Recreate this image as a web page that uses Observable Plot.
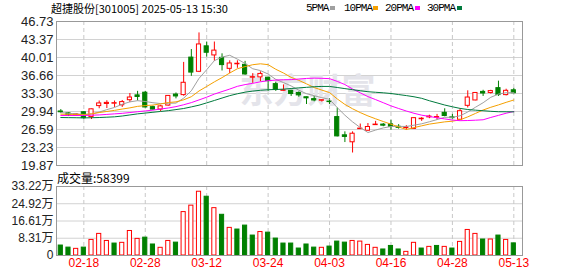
<!DOCTYPE html>
<html><head><meta charset="utf-8">
<script src="https://cdn.jsdelivr.net/npm/d3@7"></script>
<script src="https://cdn.jsdelivr.net/npm/@observablehq/plot@0.6"></script>
<style>
body{margin:0;background:#fff;}
#wrap{position:relative;width:578px;height:276px;overflow:hidden;background:#fff;}
#wrap svg{position:absolute;left:0;}
.abs{position:absolute;white-space:nowrap;}
</style></head><body><div id="wrap"></div>
<script>
// ---- data ----
const title = "超捷股份[301005] 2025-05-13 15:30";
const volLabel = "成交量:58399";
const watermark = "东方财富";
const dates = ["02-13","02-14","02-17","02-18","02-19","02-20","02-21","02-24","02-25","02-26","02-27","02-28",
"03-03","03-04","03-05","03-06","03-07","03-10","03-11","03-12","03-13","03-14","03-17","03-18","03-19","03-20","03-21","03-24","03-25","03-26","03-27","03-28","03-31",
"04-01","04-02","04-03","04-07","04-08","04-09","04-10","04-11","04-14","04-15","04-16","04-17","04-18","04-21","04-22","04-23","04-24","04-25","04-28","04-29","04-30",
"05-06","05-07","05-08","05-09","05-12","05-13"];
const dateTicks = ["02-18","02-28","03-12","03-24","04-03","04-16","04-28","05-13"];
const open = [29.95,29.60,29.20,29.80,28.90,30.95,31.35,31.40,31.10,32.05,
32.95,33.45,30.75,30.30,31.05,33.10,33.00,40.00,37.35,42.10,
40.40,39.95,37.90,38.75,38.65,36.25,36.30,36.25,35.05,33.80,
33.80,33.40,32.60,32.25,31.95,31.80,28.90,25.50,24.20,26.65,
26.35,27.40,27.50,27.55,27.10,26.85,26.70,28.50,28.85,28.80,
29.70,28.85,28.40,31.00,32.00,33.60,33.40,34.30,33.00,33.90];
const high = [30.30,29.70,29.50,29.90,30.40,31.90,31.95,31.90,32.00,33.30,
33.70,33.70,30.95,31.10,32.90,33.40,39.10,41.50,44.60,42.90,
42.90,40.70,39.40,39.40,39.30,37.00,37.35,36.35,35.40,34.90,
33.90,33.60,32.65,32.75,32.10,32.30,30.60,26.15,26.15,27.60,
27.70,28.10,27.70,28.30,27.50,27.30,28.75,28.80,29.25,29.40,
30.45,29.40,30.40,33.80,33.45,33.90,33.90,35.60,34.10,34.25];
const low = [29.55,29.00,29.10,28.50,28.45,30.45,30.50,30.70,30.70,31.60,
31.90,30.60,30.20,29.90,30.95,32.30,32.80,36.50,37.20,40.10,
39.30,37.50,37.00,38.00,36.70,35.20,35.50,33.70,33.70,33.75,
32.75,32.60,31.25,31.75,31.70,31.25,25.20,24.15,22.20,26.60,
26.30,27.35,27.10,26.45,26.65,26.45,26.60,28.10,28.60,28.30,
28.95,28.50,28.25,30.60,31.95,32.75,33.20,32.75,32.85,33.25];
const close = [29.80,29.20,29.40,28.70,30.35,31.45,31.55,31.50,31.70,32.55,
32.65,30.70,30.30,30.90,32.85,32.75,35.30,37.20,42.45,40.90,
41.30,38.60,38.90,38.85,36.85,36.35,36.95,35.65,33.95,33.90,
33.20,32.95,32.40,32.00,32.05,31.70,25.30,25.20,25.80,26.75,
27.05,27.50,27.30,27.10,26.90,26.95,28.70,28.60,29.00,28.90,
29.10,28.70,30.00,32.55,33.40,33.30,33.75,33.00,33.80,33.35];
// volume in 万
const volume = [4.8,3.8,3.2,3.8,7.5,10.4,7.0,5.75,6.1,11.8,
8.0,8.6,5.3,3.7,7.0,6.2,20.9,24.0,30.7,28.3,
22.8,19.6,13.3,12.5,14.4,9.6,11.3,11.0,8.15,5.75,
5.75,3.35,5.3,3.8,3.7,4.3,6.7,6.2,7.0,6.7,
5.1,3.7,2.9,4.6,2.9,1.75,6.1,3.35,4.15,4.6,
4.15,3.35,6.55,12.3,10.4,7.7,7.7,9.6,7.5,5.84];
const ma5 = [29.75,29.60,29.50,29.40,29.49,29.84,30.29,30.70,31.30,31.74,
31.96,31.81,31.58,31.42,31.47,31.51,32.43,33.81,36.12,37.74,
39.43,40.09,40.43,39.71,38.90,37.91,37.58,36.93,35.93,35.34,
34.71,33.91,33.26,32.89,32.52,32.22,30.67,29.25,28.01,26.95,
26.02,26.48,26.88,27.14,27.17,27.15,27.39,27.65,28.03,28.43,
28.86,28.86,29.14,29.85,30.73,31.58,32.59,33.19,33.44,33.45];
const ma10 = [29.45,29.40,29.40,29.35,29.50,29.75,29.95,30.15,30.40,30.62,
30.90,31.05,31.14,31.36,31.61,31.74,32.12,32.70,33.77,34.61,
35.47,36.26,37.12,37.92,38.32,38.67,38.84,38.68,37.82,37.12,
36.31,35.75,35.10,34.41,33.93,33.47,32.29,31.26,30.45,29.74,
29.12,28.58,28.07,27.58,27.06,26.59,26.94,27.27,27.59,27.80,
28.01,28.13,28.40,28.94,29.58,30.22,30.73,31.17,31.65,32.09];
const ma20 = [29.20,29.20,29.20,29.20,29.25,29.30,29.40,29.50,29.60,29.75,
29.90,30.05,30.20,30.40,30.60,30.85,31.20,31.60,32.10,32.61,
33.19,33.66,34.13,34.64,34.96,35.20,35.48,35.69,35.80,35.86,
35.89,36.00,36.11,36.16,36.13,36.07,35.56,34.97,34.14,33.43,
32.72,32.16,31.58,30.99,30.50,30.03,29.61,29.26,29.02,28.77,
28.56,28.35,28.23,28.26,28.32,28.40,28.83,29.22,29.62,29.95];
const ma30 = [28.82,28.80,28.78,28.75,28.78,28.82,28.88,28.95,29.10,29.30,
29.50,29.65,29.80,29.95,30.10,30.30,30.50,30.80,31.12,31.55,
32.00,32.45,32.90,33.25,33.55,33.75,33.90,34.00,34.05,34.11,
34.23,34.35,34.45,34.56,34.62,34.62,34.42,34.21,34.01,33.82,
33.63,33.53,33.43,33.30,33.10,32.91,32.69,32.40,31.95,31.55,
31.15,30.82,30.52,30.31,30.19,30.09,29.98,29.90,29.89,29.88];
const priceTicks = [19.87,23.23,26.59,29.94,33.30,36.66,40.01,43.37,46.73];
const volTicks = [0,8.31,16.61,24.92,33.22];
const maNames = ["5PMA","10PMA","20PMA","30PMA"];
const maColors = ["#a0a0a0","#f5a000","#ff00ff","#007a3d"];

// ---- build ----
const RED = "#ff0000", GREEN = "#008000";
const FONT = "'Liberation Sans','Noto Sans CJK SC',Arial,sans-serif";
const idx = dates.map((_, i) => i);
const tickIdx = idx.filter(i => dateTicks.includes(dates[i]));
const xDomain = [-0.56, 60.13];
const rows = idx.map(i => ({i, o: open[i], h: high[i], l: low[i], c: close[i], v: volume[i],
  up: close[i] >= open[i], vup: i > 0 && close[i] >= close[i - 1]}));
const maSets = [ma5, ma10, ma20, ma30];
const maRows = maSets.flatMap((s, k) => s.map((v, i) => ({i, v, name: maNames[k], color: maColors[k]})));
const halfW = 0.27;

const pricePlot = Plot.plot({
  width: 578, height: 170, marginLeft: 56, marginRight: 56, marginTop: 21, marginBottom: 5,
  x: {domain: xDomain, axis: null},
  y: {domain: [priceTicks[0], priceTicks[priceTicks.length - 1]], axis: null},
  color: {type: "identity"},
  style: {background: "transparent", overflow: "visible", fontFamily: FONT},
  marks: [
    Plot.ruleY(priceTicks.slice(1, -1), {stroke: "#d2d2d2"}),
    Plot.ruleX(tickIdx, {stroke: "#c8c8c8", strokeDasharray: "4,3"}),
    Plot.text([watermark], {frameAnchor: "middle", dx: 18, dy: -1, fontSize: 34, fontWeight: "bold",
      fill: "#e4e4ea", fontFamily: "'Noto Sans CJK SC',sans-serif"}),
    Plot.ruleX(rows, {x: "i", y1: "l", y2: "h", stroke: d => d.up ? RED : GREEN}),
    Plot.rect(rows, {x1: d => d.i - halfW, x2: d => d.i + halfW, y1: "o", y2: "c",
      fill: d => d.up ? "#ffffff" : GREEN, stroke: d => d.up ? RED : GREEN}),
    Plot.line(maRows, {x: "i", y: "v", z: "name", stroke: "color", strokeWidth: 1}),
    Plot.frame({stroke: "#999"}),
    Plot.text(priceTicks, {y: d => d, frameAnchor: "left", dx: -3, textAnchor: "end",
      text: d => d.toFixed(2), fontSize: 13, fill: "#222"})
  ]
});

const volPlot = Plot.plot({
  width: 578, height: 106, marginLeft: 56, marginRight: 56, marginTop: 16, marginBottom: 21,
  x: {domain: xDomain, axis: null},
  y: {domain: [0, volTicks[volTicks.length - 1]], axis: null},
  color: {type: "identity"},
  style: {background: "transparent", overflow: "visible", fontFamily: FONT},
  marks: [
    Plot.ruleY(volTicks.slice(1, -1), {stroke: "#d2d2d2"}),
    Plot.ruleX(tickIdx, {stroke: "#c8c8c8", strokeDasharray: "4,3"}),
    Plot.rect(rows, {x1: d => d.i - halfW, x2: d => d.i + halfW, y1: 0, y2: "v",
      fill: d => d.vup ? "#ffffff" : GREEN, stroke: d => d.vup ? RED : GREEN}),
    Plot.frame({stroke: "#999"}),
    Plot.text(volTicks, {y: d => d, frameAnchor: "left", dx: -3, textAnchor: "end",
      text: d => d === 0 ? "0" : d.toFixed(2) + "万", fontSize: 12, fill: "#222"}),
    Plot.text(tickIdx, {x: d => d, frameAnchor: "bottom", dy: 11, text: d => dates[d],
      fill: RED, fontSize: 12})
  ]
});

const wrap = document.getElementById("wrap");
pricePlot.style.top = "0px";
volPlot.style.top = "170px";
wrap.appendChild(pricePlot);
wrap.appendChild(volPlot);

function addText(txt, left, top, css) {
  const d = document.createElement("div");
  d.className = "abs";
  d.textContent = txt;
  d.style.left = left + "px";
  d.style.top = top + "px";
  Object.assign(d.style, css);
  wrap.appendChild(d);
  return d;
}
addText(title, 51, 1, {font: "11px/15px 'Noto Sans CJK SC',sans-serif", color: "#000"});
addText(volLabel, 57, 170, {font: "12px/15px 'Noto Sans CJK SC',sans-serif", color: "#000"});
// legend
const legTextX = [306, 344, 385, 427];
const legBoxX = [330, 373, 415, 457];
maNames.forEach((n, k) => {
  addText(n, legTextX[k], 1, {font: "11px/15px 'Liberation Mono',monospace", letterSpacing: "-1px", color: "#000"});
  const b = document.createElement("div");
  b.className = "abs";
  Object.assign(b.style, {left: legBoxX[k] + "px", top: "6px", width: "5px", height: "4px", background: maColors[k]});
  wrap.appendChild(b);
});
</script>
</body></html>
